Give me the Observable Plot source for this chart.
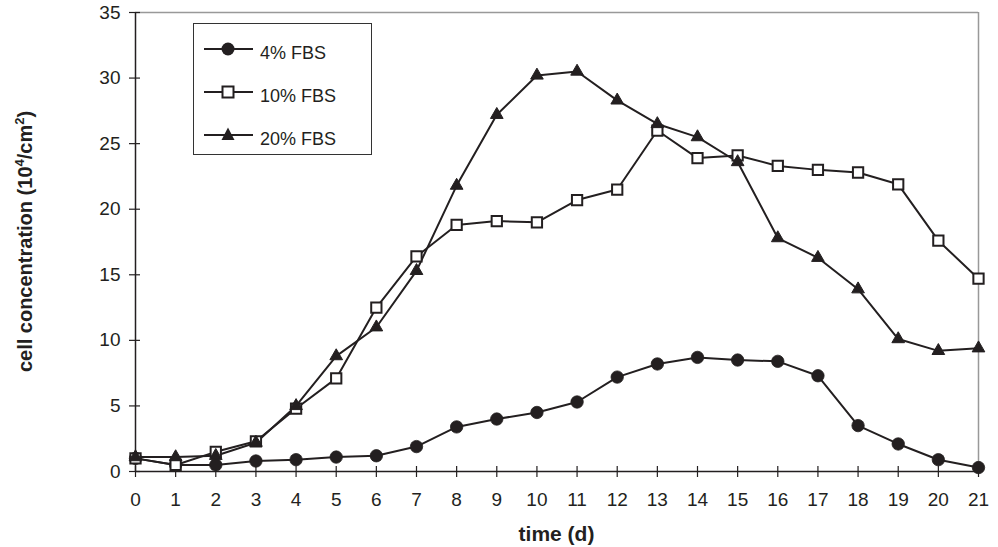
<!DOCTYPE html>
<html><head><meta charset="utf-8">
<script src="https://cdn.jsdelivr.net/npm/d3@7"></script>
<script src="https://cdn.jsdelivr.net/npm/@observablehq/plot@0.6"></script>
<style>
body{margin:0;background:#fff;font-family:"Liberation Sans",Arial,sans-serif}
#wrap{position:relative;width:998px;height:547px}
#legend{position:absolute;left:193px;top:23px;width:179px;height:132px;border:1px solid #333;background:#fff;box-sizing:border-box}
</style>
</head><body><div id="wrap"></div>
<script>
const days = [0,1,2,3,4,5,6,7,8,9,10,11,12,13,14,15,16,17,18,19,20,21];
const fbs4  = [1.0,0.5,0.5,0.8,0.9,1.1,1.2,1.9,3.4,4.0,4.5,5.3,7.2,8.2,8.7,8.5,8.4,7.3,3.5,2.1,0.9,0.3];
const fbs10 = [1.0,0.5,1.5,2.3,4.8,7.1,12.5,16.4,18.8,19.1,19.0,20.7,21.5,26.0,23.9,24.1,23.3,23.0,22.8,21.9,17.6,14.7];
const fbs20 = [1.1,1.1,1.2,2.2,5.0,8.8,11.0,15.3,21.8,27.2,30.2,30.5,28.3,26.5,25.5,23.6,17.8,16.3,13.9,10.1,9.2,9.4];
const seriesNames = ["4% FBS","10% FBS","20% FBS"];
const yTicks = [0,5,10,15,20,25,30,35];
const xLabel = "time (d)";

const rows = [];
days.forEach((d,i)=>{
  rows.push({day:d, v:fbs4[i], s:seriesNames[0]});
  rows.push({day:d, v:fbs10[i], s:seriesNames[1]});
  rows.push({day:d, v:fbs20[i], s:seriesNames[2]});
});
const ink = "#231f20";
const FONT = '"Liberation Sans", Arial, sans-serif';
const W = 998, H = 547, ML = 135, MR = 20, MT = 12, MB = 76;
const innerW = W-ML-MR, innerH = H-MT-MB;

const plot = Plot.plot({
  width: W, height: H,
  marginLeft: ML, marginRight: MR, marginTop: MT, marginBottom: MB,
  style: {fontFamily: FONT, fontSize: "19px", background: "#fff", color: ink},
  x: {domain: [0,21], label: null},
  y: {domain: [0,35], label: null},
  marks: [
    Plot.ruleY([35], {stroke: "#999", strokeWidth: 1.5}),
    Plot.ruleX([21], {stroke: "#999", strokeWidth: 1.5}),
    Plot.ruleX([0], {stroke: ink, strokeWidth: 1.5}),
    Plot.ruleY([0], {stroke: ink, strokeWidth: 1.5}),
    Plot.axisX(days, {tickSize: 6, tickPadding: 15, stroke: ink, strokeWidth: 1.2, fill: ink, fontSize: 19, tickFormat: d=>String(d), label: null}),
    Plot.ruleX(days, {x: d=>d, insetTop: innerH-5, stroke: ink, strokeWidth: 1.2}),
    Plot.axisY(yTicks, {tickSize: 6, tickPadding: 9, stroke: ink, strokeWidth: 1.2, fill: ink, fontSize: 19, label: null}),
    Plot.ruleY(yTicks, {y: d=>d, insetRight: innerW-5, stroke: ink, strokeWidth: 1.2}),
    Plot.line(rows, {x: "day", y: "v", z: "s", stroke: ink, strokeWidth: 2}),
    Plot.dot(rows.filter(r=>r.s===seriesNames[0]), {x: "day", y: "v", r: 6.2, symbol: "circle", fill: ink, stroke: ink, strokeWidth: 0.8}),
    Plot.dot(rows.filter(r=>r.s===seriesNames[1]), {x: "day", y: "v", r: 5.8, symbol: "square", fill: "#fff", stroke: ink, strokeWidth: 2}),
    Plot.dot(rows.filter(r=>r.s===seriesNames[2]), {x: "day", y: "v", r: 4.7, symbol: "triangle", fill: ink, stroke: ink, strokeWidth: 1})
  ]
});
const wrap = document.getElementById("wrap");
wrap.appendChild(plot);

const svg = d3.select(plot);
// x-axis title
svg.append("text")
  .attr("x", ML + innerW/2).attr("y", 541)
  .attr("text-anchor","middle")
  .attr("font-weight","bold").attr("font-size",21).attr("fill",ink)
  .attr("font-family",FONT).text(xLabel);

// y-axis title with superscripts
const yt = svg.append("text")
  .attr("transform", `translate(32,${MT+innerH/2}) rotate(-90)`)
  .attr("text-anchor","middle")
  .attr("font-weight","bold").attr("font-size",20).attr("fill",ink)
  .attr("font-family",FONT);
yt.append("tspan").text("cell concentration (10");
yt.append("tspan").attr("dy",-8).attr("font-size",13).text("4");
yt.append("tspan").attr("dy",8).text("/cm");
yt.append("tspan").attr("dy",-8).attr("font-size",13).text("2");
yt.append("tspan").attr("dy",8).text(")");

// legend
const lg = document.createElement("div");
lg.id = "legend";
wrap.appendChild(lg);
const ls = d3.select(lg).append("svg").attr("width",177).attr("height",130);
const syms = ["circle","square","triangle"];
seriesNames.forEach((name,i)=>{
  const cy = 25 + i*43;
  const g = ls.append("g");
  g.append("line").attr("x1",10).attr("x2",59).attr("y1",cy).attr("y2",cy).attr("stroke",ink).attr("stroke-width",2);
  if (syms[i]==="circle") g.append("circle").attr("cx",34).attr("cy",cy).attr("r",6.5).attr("fill",ink);
  if (syms[i]==="square") g.append("rect").attr("x",28.5).attr("y",cy-5.5).attr("width",11).attr("height",11).attr("fill","#fff").attr("stroke",ink).attr("stroke-width",2);
  if (syms[i]==="triangle") g.append("path").attr("d",`M34,${cy-7.5}L40.5,${cy+5}L27.5,${cy+5}Z`).attr("fill",ink);
  g.append("text").attr("x",66).attr("y",cy+10).attr("font-size",18).attr("fill",ink)
    .attr("font-family",FONT).text(name);
});
</script>
</body></html>
